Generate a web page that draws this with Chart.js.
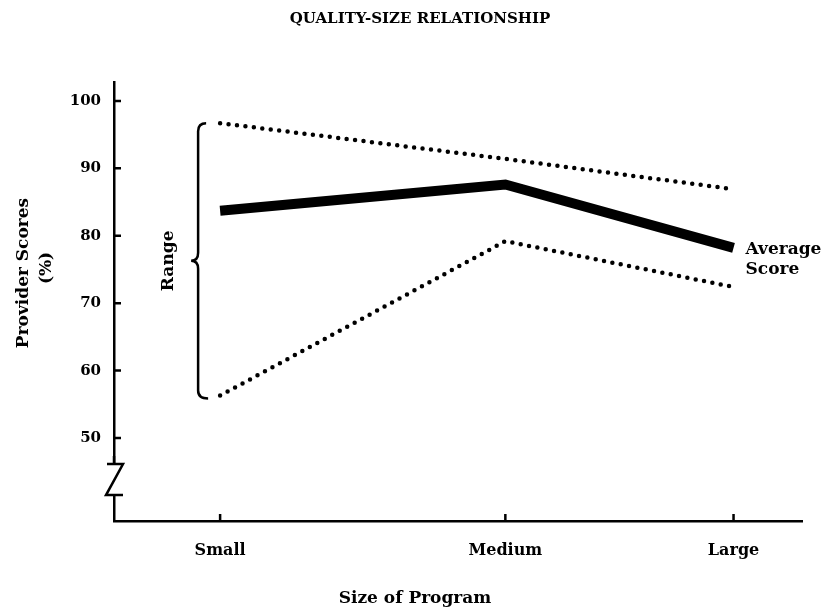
<!DOCTYPE html>
<html lang="en">
<head>
  <meta charset="UTF-8">
  <title>Quality-Size Relationship</title>
  <style>
    html, body { margin: 0; padding: 0; background: #fff; }
    .chart-box { position: relative; width: 837px; height: 615px; }
  </style>
</head>
<body>
  <div class="chart-box"><canvas id="qualityChart"></canvas></div>

  <script src="https://cdn.jsdelivr.net/npm/chart.js"></script>
  <script>
    // values
    const categories = ['Small', 'Medium', 'Large'];
    const categoryPos = [0, 1, 1.8];
    const rangeHigh = [96.7, 91.4, 86.9];
    const averageScore = [83.7, 87.6, 78.2];
    const rangeLow = [56.3, 79.2, 72.4];
    const yTicks = [50, 60, 70, 80, 90, 100];

    const FONT = "'DejaVu Serif', 'Liberation Serif', serif";
    const toPoints = vals => categoryPos.map((x, i) => ({ x: x, y: vals[i] }));

    const dotted = {
      borderColor: '#000',
      borderWidth: 4.5,
      borderDash: [0, 8.5],
      borderCapStyle: 'round',
      pointRadius: 0,
      tension: 0,
      fill: false
    };

    // extra drawing: inward tick marks, axis break, brace, labels
    const decor = {
      id: 'decor',
      afterDraw(chart) {
        const { ctx, chartArea: ca, scales: { x, y } } = chart;
        ctx.save();
        ctx.strokeStyle = '#000';
        ctx.fillStyle = '#000';
        ctx.lineWidth = 2.5;

        // tick marks pointing into the plot
        ctx.beginPath();
        yTicks.forEach(v => {
          const py = y.getPixelForValue(v);
          ctx.moveTo(ca.left, py);
          ctx.lineTo(ca.left + 7, py);
        });
        categoryPos.forEach(v => {
          const px = x.getPixelForValue(v);
          ctx.moveTo(px, ca.bottom);
          ctx.lineTo(px, ca.bottom - 7);
        });
        ctx.stroke();

        // axis break
        const zt = y.getPixelForValue(50) + 26;
        const zb = zt + 31;
        ctx.clearRect(ca.left - 4, zt, 8, zb - zt);
        ctx.beginPath();
        ctx.moveTo(ca.left, zt - 8);
        ctx.lineTo(ca.left, zt);
        ctx.moveTo(ca.left - 7, zt);
        ctx.lineTo(ca.left + 9, zt);
        ctx.lineTo(ca.left - 8, zb);
        ctx.lineTo(ca.left + 9, zb);
        ctx.stroke();

        // brace for the range at Small
        const bx = x.getPixelForValue(categoryPos[0]) - 22;
        const top = y.getPixelForValue(rangeHigh[0]);
        const bot = y.getPixelForValue(rangeLow[0]) + 3;
        const mid = (top + bot) / 2;
        ctx.beginPath();
        ctx.moveTo(bx + 8, top);
        ctx.quadraticCurveTo(bx, top, bx, top + 8);
        ctx.lineTo(bx, mid - 8);
        ctx.quadraticCurveTo(bx, mid, bx - 7, mid);
        ctx.quadraticCurveTo(bx, mid, bx, mid + 8);
        ctx.lineTo(bx, bot - 8);
        ctx.quadraticCurveTo(bx, bot, bx + 10, bot);
        ctx.stroke();

        ctx.font = 'bold 17px ' + FONT;
        ctx.textBaseline = 'middle';
        ctx.textAlign = 'center';
        ctx.save();
        ctx.translate(bx - 30, mid);
        ctx.rotate(-Math.PI / 2);
        ctx.fillText('Range', 0, 0);
        ctx.restore();

        // y axis title
        ctx.save();
        ctx.translate(24, 273);
        ctx.rotate(-Math.PI / 2);
        ctx.fillText('Provider Scores', 0, 0);
        ctx.restore();
        ctx.save();
        ctx.translate(47, 268);
        ctx.rotate(-Math.PI / 2);
        ctx.fillText('(%)', 0, 0);
        ctx.restore();

        // x axis title
        ctx.fillText('Size of Program', 415, 599);

        // average score label
        const lx = x.getPixelForValue(categoryPos[2]) + 12;
        const ly = y.getPixelForValue(averageScore[2]) + 2;
        ctx.textAlign = 'left';
        ctx.fillText('Average', lx, ly);
        ctx.fillText('Score', lx, ly + 20);
        ctx.restore();
      }
    };

    const config = {
      type: 'line',
      data: {
        datasets: [
          Object.assign({ label: 'Range high', data: toPoints(rangeHigh) }, dotted),
          {
            label: 'Average Score',
            data: toPoints(averageScore),
            borderColor: '#000',
            borderWidth: 10,
            borderCapStyle: 'butt',
            borderJoinStyle: 'miter',
            pointRadius: 0,
            tension: 0,
            fill: false
          },
          Object.assign({ label: 'Range low', data: toPoints(rangeLow) }, dotted)
        ]
      },
      options: {
        responsive: true,
        maintainAspectRatio: false,
        animation: false,
        layout: { padding: { left: 38, right: 35, top: 0, bottom: 0 } },
        plugins: {
          legend: { display: false },
          tooltip: { enabled: false },
          title: {
            display: true,
            text: 'QUALITY-SIZE RELATIONSHIP',
            color: '#000',
            font: { family: FONT, size: 15, weight: 'bold' },
            padding: { top: 10, bottom: 54 }
          }
        },
        scales: {
          x: {
            type: 'linear',
            min: -0.372,
            max: 2.04,
            afterBuildTicks: s => { s.ticks = categoryPos.map(v => ({ value: v })); },
            afterFit: s => { s.height = 94; },
            grid: { display: false },
            border: { display: true, color: '#000', width: 2.5 },
            ticks: {
              autoSkip: false,
              maxRotation: 0,
              padding: 12,
              color: '#000',
              font: { family: FONT, size: 16, weight: 'bold' },
              callback: (v, i) => categories[i]
            }
          },
          y: {
            type: 'linear',
            min: 37.7,
            max: 102.8,
            afterBuildTicks: s => { s.ticks = yTicks.map(v => ({ value: v })); },
            afterFit: s => { s.width = 76; },
            grid: { display: false },
            border: { display: true, color: '#000', width: 2.5 },
            ticks: {
              padding: 5,
              color: '#000',
              font: { family: FONT, size: 15, weight: 'bold' }
            }
          }
        }
      },
      plugins: [decor]
    };

    window.addEventListener('load', () => {
      const ctx = document.getElementById('qualityChart').getContext('2d');
      new Chart(ctx, config);
    });
  </script>
</body>
</html>
